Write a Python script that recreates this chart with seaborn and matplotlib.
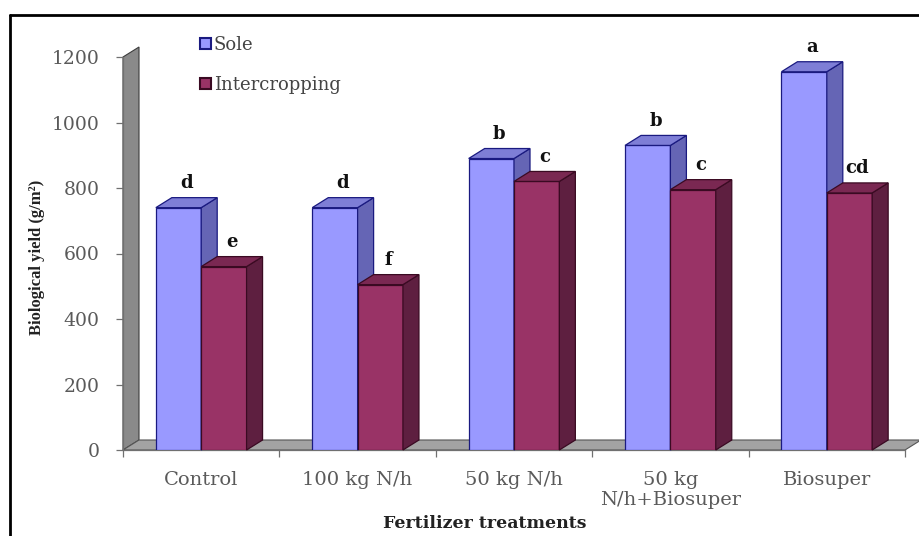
import matplotlib
matplotlib.use("Agg")
import matplotlib.pyplot as plt
from matplotlib.patches import Polygon, Patch
from matplotlib.lines import Line2D
import seaborn as sns
import pandas as pd

# Biological yield by fertilizer treatment and cropping system
treatments = ["Control", "100 kg N/h", "50 kg N/h", "50 kg\nN/h+Biosuper", "Biosuper"]
sole = [740, 740, 890, 930, 1155]
intercropping = [560, 505, 820, 795, 785]
sole_letters = ["d", "d", "b", "b", "a"]
inter_letters = ["e", "f", "c", "c", "cd"]
y_ticks = [0, 200, 400, 600, 800, 1000, 1200]

systems = ["Sole", "Intercropping"]
df = pd.DataFrame({
    "treatment": treatments * 2,
    "yield": sole + intercropping,
    "system": ["Sole"] * len(treatments) + ["Intercropping"] * len(treatments),
})

front = {"Sole": "#9999FF", "Intercropping": "#993366"}
side = {"Sole": "#6565B5", "Intercropping": "#5E1F40"}
top = {"Sole": "#7E7ED6", "Intercropping": "#7A2852"}
edge = {"Sole": "#1A1A80", "Intercropping": "#3A0A22"}

sns.set_theme(style="white")
plt.rcParams["font.family"] = ["DejaVu Serif", "DejaVu Sans"]

W, H = 919, 536
fig = plt.figure(figsize=(W / 100, H / 100), dpi=100)
ax_left, ax_right, ax_bottom, ax_top = 123, 905, 450, 57
ax = fig.add_axes([ax_left / W, 1 - ax_bottom / H,
                   (ax_right - ax_left) / W, (ax_bottom - ax_top) / H])

sns.barplot(data=df, x="treatment", y="yield", hue="system", hue_order=systems,
            palette=front, width=0.58, ax=ax, legend=False, saturation=1)

ax.set_xlim(-0.5, len(treatments) - 0.5)
ax.set_ylim(0, 1200)

# depth of the 3D effect in data units
px_x = (len(treatments)) / (ax_right - ax_left)
px_y = 1200 / (ax_bottom - ax_top)
dx, dy = 16 * px_x, 10 * px_y

# back wall and floor
x0 = -0.5
x1 = len(treatments) - 0.5
ax.add_patch(Polygon([(x0, 0), (x0, 1200), (x0 + dx, 1200 + dy), (x0 + dx, dy)],
                     closed=True, facecolor="#8A8A8A", edgecolor="#3C3C3C",
                     lw=0.8, zorder=0.5, clip_on=False))
ax.add_patch(Polygon([(x0, 0), (x1, 0), (x1 + dx, dy), (x0 + dx, dy)],
                     closed=True, facecolor="#A3A3A3", edgecolor="#555555",
                     lw=0.8, zorder=0.6, clip_on=False))

# 3D faces for each bar
for k, (name, cont) in enumerate(zip(systems, ax.containers)):
    z = 1 + 2 * k
    for bar in cont.patches:
        bar.set_edgecolor(edge[name])
        bar.set_linewidth(0.9)
        bar.set_zorder(z)
        bx, bw, bh = bar.get_x(), bar.get_width(), bar.get_height()
        ax.add_patch(Polygon([(bx + bw, 0), (bx + bw + dx, dy), (bx + bw + dx, bh + dy), (bx + bw, bh)],
                             closed=True, facecolor=side[name], edgecolor=edge[name],
                             lw=0.9, zorder=z + 0.5, clip_on=False))
        ax.add_patch(Polygon([(bx, bh), (bx + dx, bh + dy), (bx + bw + dx, bh + dy), (bx + bw, bh)],
                             closed=True, facecolor=top[name], edgecolor=edge[name],
                             lw=0.9, zorder=z + 0.5, clip_on=False))

# significance letters
for name, cont, letters in zip(systems, ax.containers, [sole_letters, inter_letters]):
    for bar, lab in zip(cont.patches, letters):
        cx = bar.get_x() + bar.get_width() / 2 + dx / 2
        ax.annotate(lab, (cx, bar.get_height() + dy), xytext=(0, 4),
                    textcoords="offset points", ha="center", va="bottom",
                    fontsize=13, fontweight="bold", color="#111111", zorder=6,
                    annotation_clip=False)

# axes styling
for s in ["top", "right"]:
    ax.spines[s].set_visible(False)
for s in ["left", "bottom"]:
    ax.spines[s].set_color("#707070")
    ax.spines[s].set_linewidth(0.9)
    ax.spines[s].set_zorder(0.7)

ax.set_yticks(y_ticks)
ax.set_yticklabels([str(v) for v in y_ticks])
ax.tick_params(axis="y", direction="out", length=5, width=0.9, color="#707070",
               pad=12, labelsize=13.5, labelcolor="#5a5a5a", left=True)
ax.set_xticks(range(len(treatments)))
ax.set_xticklabels(treatments, linespacing=1.15)
ax.set_xticks([i - 0.5 for i in range(len(treatments) + 1)], minor=True)
ax.tick_params(axis="x", which="major", length=0, pad=15, labelsize=14,
               labelcolor="#5a5a5a")
ax.tick_params(axis="x", which="minor", direction="out", length=5, width=0.9,
               color="#707070", bottom=True)
ax.set_xlabel("")
ax.set_ylabel("")
ax.grid(False)

fig.text(485 / W, 1 - 523 / H, "Fertilizer treatments", ha="center", va="center",
         fontsize=12.5, fontweight="bold", color="#222222")
fig.text(37 / W, 1 - 257 / H, "Biological yield (g/m²)", ha="center",
         va="center", rotation=90, fontsize=12, fontweight="bold",
         family=["Liberation Serif", "DejaVu Serif"], color="#222222")

handles = [Patch(facecolor=front[n], edgecolor=edge[n], lw=1.5) for n in systems]
ax.legend(handles, systems, loc="upper left", bbox_to_anchor=(191 / W, 1 - 27 / H),
          bbox_transform=fig.transFigure, frameon=False, borderpad=0,
          handlelength=0.6, handleheight=0.6, handletextpad=0.15, labelspacing=1.2,
          prop={"family": "DejaVu Serif", "size": 13}, labelcolor="#444444")

# outer frame of the figure
fig.add_artist(Line2D([10 / W, 10 / W], [0, 1 - 15 / H], transform=fig.transFigure,
                      color="black", lw=2))
fig.add_artist(Line2D([10 / W, 1], [1 - 15 / H, 1 - 15 / H], transform=fig.transFigure,
                      color="black", lw=2))

fig.savefig("out.png", dpi=100, facecolor="white")
